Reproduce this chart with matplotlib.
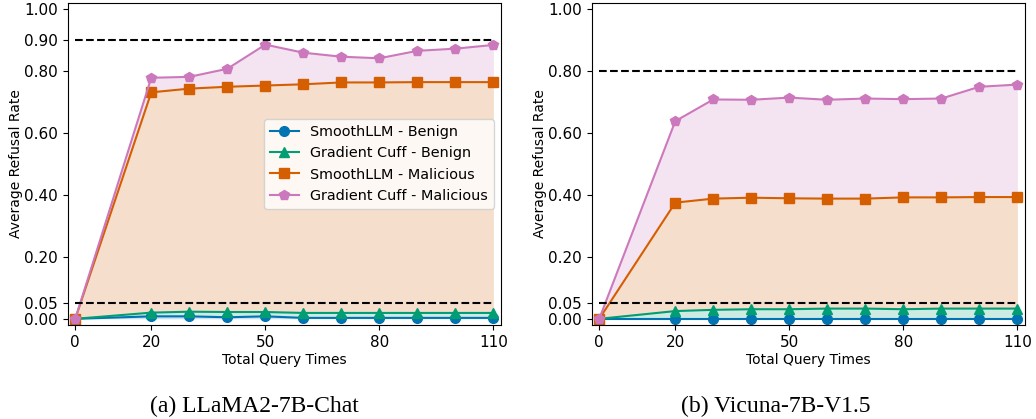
import numpy as np
import matplotlib
matplotlib.use("Agg")
import matplotlib.pyplot as plt

queries = [0, 20, 30, 40, 50, 60, 70, 80, 90, 100, 110]
xticks = [0, 20, 50, 80, 110]

# LLaMA2-7B-Chat
llama_smooth_benign = [0.0, 0.008, 0.008, 0.005, 0.008, 0.003, 0.003, 0.003, 0.003, 0.003, 0.003]
llama_cuff_benign = [0.0, 0.020, 0.023, 0.022, 0.022, 0.019, 0.019, 0.019, 0.019, 0.019, 0.019]
llama_smooth_mal = [0.0, 0.731, 0.743, 0.749, 0.753, 0.757, 0.763, 0.763, 0.764, 0.764, 0.764]
llama_cuff_mal = [0.0, 0.778, 0.781, 0.807, 0.885, 0.859, 0.846, 0.841, 0.865, 0.872, 0.884]

# Vicuna-7B-V1.5
vicuna_smooth_benign = [0.0] * 11
vicuna_cuff_benign = [0.0, 0.025, 0.029, 0.031, 0.031, 0.033, 0.033, 0.031, 0.033, 0.033, 0.033]
vicuna_smooth_mal = [0.0, 0.375, 0.388, 0.391, 0.389, 0.388, 0.388, 0.392, 0.392, 0.393, 0.393]
vicuna_cuff_mal = [0.0, 0.638, 0.708, 0.707, 0.714, 0.707, 0.711, 0.709, 0.711, 0.749, 0.756]

labels = ["SmoothLLM - Benign", "Gradient Cuff - Benign",
          "SmoothLLM - Malicious", "Gradient Cuff - Malicious"]
colors = ["#0173b2", "#029e73", "#d55e00", "#cc78bc"]
markers = ["o", "^", "s", "p"]

panels = [
    ("(a) LLaMA2-7B-Chat", [llama_smooth_benign, llama_cuff_benign, llama_smooth_mal, llama_cuff_mal],
     0.90, [0, 0.05, 0.2, 0.4, 0.6, 0.8, 0.9, 1.0]),
    ("(b) Vicuna-7B-V1.5", [vicuna_smooth_benign, vicuna_cuff_benign, vicuna_smooth_mal, vicuna_cuff_mal],
     0.80, [0, 0.05, 0.2, 0.4, 0.6, 0.8, 1.0]),
]

fig = plt.figure(figsize=(10.36, 4.19), dpi=100)
ax_left = [0.0653, 0.5711]
caption_x = [0.246, 0.749]

for i, (title, series, upper, yticks) in enumerate(panels):
    ax = fig.add_axes([ax_left[i], 0.2243, 0.4183, 0.769])
    x = np.array(queries)
    prev = np.zeros(len(x))
    # shade each band between a series and the one below it
    for ys, lab, c, m in zip(series, labels, colors, markers):
        ys = np.array(ys)
        ax.fill_between(x, prev, ys, color=c, alpha=0.2, linewidth=0)
        ax.plot(x, ys, color=c, marker=m, markersize=7, linewidth=1.5, label=lab)
        prev = ys
    ax.hlines([0.05, upper], 0, 110, colors="black", linestyles="--", linewidth=1.5)
    ax.set_xlim(-2, 112)
    ax.set_ylim(-0.02, 1.02)
    ax.set_xticks(xticks)
    ax.set_yticks(yticks)
    ax.set_yticklabels([f"{t:.2f}" for t in yticks])
    ax.tick_params(labelsize=11)
    ax.set_xlabel("Total Query Times", fontsize=10, labelpad=2)
    ax.set_ylabel("Average Refusal Rate", fontsize=10, labelpad=1)
    if i == 0:
        ax.legend(loc="center right", fontsize=10.4)
    fig.text(caption_x[i], 0.03, title, ha="center", va="center",
             fontsize=17, family="Liberation Serif")

fig.savefig("out.png", dpi=100)
